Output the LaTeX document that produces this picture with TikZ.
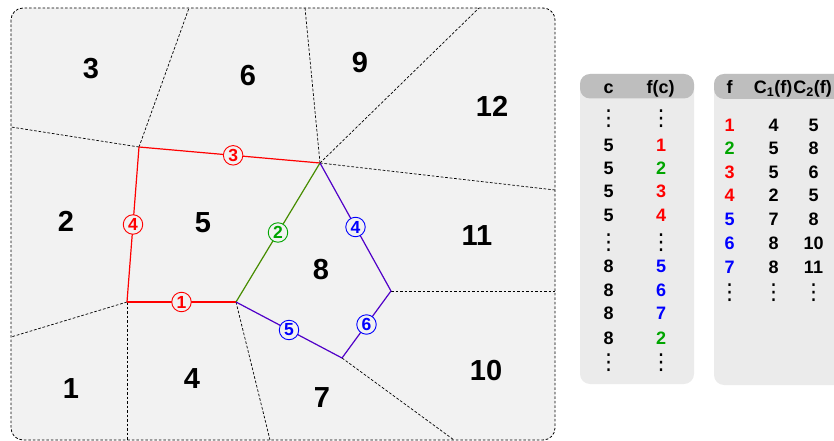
\documentclass[tikz,border=0pt]{standalone}
\usepackage{fontspec}
\setmainfont{Liberation Sans}
\newfontfamily\dotsfont{DejaVu Sans}

\definecolor{bgmain}{RGB}{242,242,242}
\definecolor{tblbody}{RGB}{235,235,235}
\definecolor{tblhead}{RGB}{190,190,190}
\definecolor{fred}{RGB}{255,0,0}
\definecolor{fgreen}{RGB}{0,165,0}
\definecolor{fblue}{RGB}{0,0,255}
\definecolor{edgegreen}{RGB}{70,140,0}
\definecolor{edgeblue}{RGB}{80,0,200}

% vertical ellipsis used as a column filler
\newcommand{\colvdots}{\raisebox{-1.5pt}{\dotsfont\mdseries\fontsize{22}{22}\selectfont ⋮}}

\tikzset{
  cellnum/.style={font=\fontsize{29}{29}\selectfont\bfseries, inner sep=0pt},
  frameline/.style={black, line width=0.8pt, dash pattern=on 2.7pt off 1.8pt},
  sepline/.style={black, line width=0.7pt, dash pattern=on 2.7pt off 1.8pt},
  faceline/.style={line width=1.2pt},
  tag/.style={circle, draw, fill=bgmain, line width=0.9pt, minimum size=19.5pt,
              inner sep=0pt, font=\fontsize{17.5}{17.5}\selectfont\bfseries},
  tcell/.style={font=\fontsize{18}{18}\selectfont\bfseries, inner sep=0pt, anchor=base},
}

\begin{document}
\begin{tikzpicture}[x=1pt, y=-1pt]
  \useasboundingbox (0,0) rectangle (834,441);
  \clip (0,0) rectangle (834,441);

  % ---------------- mesh panel ----------------
  \fill[bgmain, rounded corners=12pt] (11,8) rectangle (555,440);

  % vertices of the two highlighted cells
  \coordinate (A) at (139,147);
  \coordinate (B) at (320,163);
  \coordinate (C) at (127,302);
  \coordinate (D) at (236,302);
  \coordinate (E) at (391,291);
  \coordinate (F) at (342,358);

  % where the remaining cell walls meet the panel border
  \coordinate (At) at (189,8);
  \coordinate (Al) at (11,127);
  \coordinate (Bt) at (305,8);
  \coordinate (Bu) at (479,8);
  \coordinate (Br) at (555,190);
  \coordinate (Er) at (555,291);
  \coordinate (Fb) at (454,440);
  \coordinate (Db) at (270,440);
  \coordinate (Cb) at (127,440);
  \coordinate (Cl) at (11,337);

  % other cell walls
  \draw[sepline] (A) -- (At);
  \draw[sepline] (A) -- (Al);
  \draw[sepline] (B) -- (Bt);
  \draw[sepline] (B) -- (Bu);
  \draw[sepline] (B) -- (Br);
  \draw[sepline] (E) -- (Er);
  \draw[sepline] (F) -- (Fb);
  \draw[sepline] (D) -- (Db);
  \draw[sepline] (C) -- (Cb);
  \draw[sepline] (C) -- (Cl);

  % faces of cell 5 and cell 8
  \draw[faceline, fred] (C) -- node[tag, draw=fred, text=fred] (f1) {1} (D);
  \draw[faceline, fred] (A) -- node[tag, draw=fred, text=fred, pos=0.52] (f3) {3} (B);
  \draw[faceline, fred] (C) -- node[tag, draw=fred, text=fred] (f4r) {4} (A);
  \draw[faceline, edgegreen] (D) -- node[tag, draw=fgreen, text=fgreen] (f2) {2} (B);
  \draw[faceline, edgeblue] (B) -- node[tag, draw=fblue, text=fblue] (f4b) {4} (E);
  \draw[faceline, edgeblue] (D) -- node[tag, draw=fblue, text=fblue] (f5) {5} (F);
  \draw[faceline, edgeblue] (F) -- node[tag, draw=fblue, text=fblue] (f6) {6} (E);

  % panel border
  \draw[frameline, rounded corners=12pt] (11,8) rectangle (555,440);

  % cell numbers
  \node[cellnum] (c1)  at (71,389)  {1};
  \node[cellnum] (c2)  at (66,221)  {2};
  \node[cellnum] (c3)  at (91,69)   {3};
  \node[cellnum] (c4)  at (192,379) {4};
  \node[cellnum] (c5)  at (203,223) {5};
  \node[cellnum] (c6)  at (248,76)  {6};
  \node[cellnum] (c7)  at (322,398) {7};
  \node[cellnum] (c8)  at (321,270) {8};
  \node[cellnum] (c9)  at (360,63)  {9};
  \node[cellnum] (c10) at (486,371) {10};
  \node[cellnum] (c11) at (477,236) {11};
  \node[cellnum] (c12) at (492,106) {12};

  % ---------------- table: cell -> face ----------------
  \fill[tblbody, rounded corners=10pt] (580,74) rectangle (694,384);
  \fill[tblhead, rounded corners=10pt] (580,74) rectangle (694,98.5);
  \node[tcell] (lh1) at (608.5,93.5) {c};
  \node[tcell] (lh2) at (660.5,93.5) {f(c)};

  \foreach \y/\a/\b/\col [count=\i] in {
      117.5/\colvdots/\colvdots/black,
      144.5/5/1/fred,
      167.5/5/2/fgreen,
      191/5/3/fred,
      214.7/5/4/fred,
      241.7/\colvdots/\colvdots/black,
      266/8/5/fblue,
      289.5/8/6/fblue,
      313/8/7/fblue,
      337.5/8/2/fgreen,
      361.7/\colvdots/\colvdots/black} {
    \node[tcell] (lc\i) at (608.5,\y+6.5) {\a};
    \node[tcell, text=\col] (lf\i) at (661,\y+6.5) {\b};
  }

  % ---------------- table: face -> cells ----------------
  \fill[tblbody, rounded corners=10pt] (714,74) rectangle (860,385);
  \fill[tblhead, rounded corners=10pt] (714,74) rectangle (860,99);
  \node[tcell] (rh1) at (729.5,93.5) {f};
  \node[tcell] (rh2) at (773,93.5) {C\textsubscript{1}(f)};
  \node[tcell] (rh3) at (812.5,93.5) {C\textsubscript{2}(f)};

  \foreach \y/\f/\p/\q/\col [count=\i] in {
      124.5/1/4/5/fred,
      148/2/5/8/fgreen,
      171.5/3/5/6/fred,
      195/4/2/5/fred,
      219/5/7/8/fblue,
      243.3/6/8/10/fblue,
      267.3/7/8/11/fblue,
      291.7/\colvdots/\colvdots/\colvdots/black} {
    \node[tcell, text=\col] (rf\i) at (729.5,\y+6.5) {\f};
    \node[tcell] (rp\i) at (773.5,\y+6.5) {\p};
    \node[tcell] (rq\i) at (813.5,\y+6.5) {\q};
  }
\end{tikzpicture}
\end{document}
